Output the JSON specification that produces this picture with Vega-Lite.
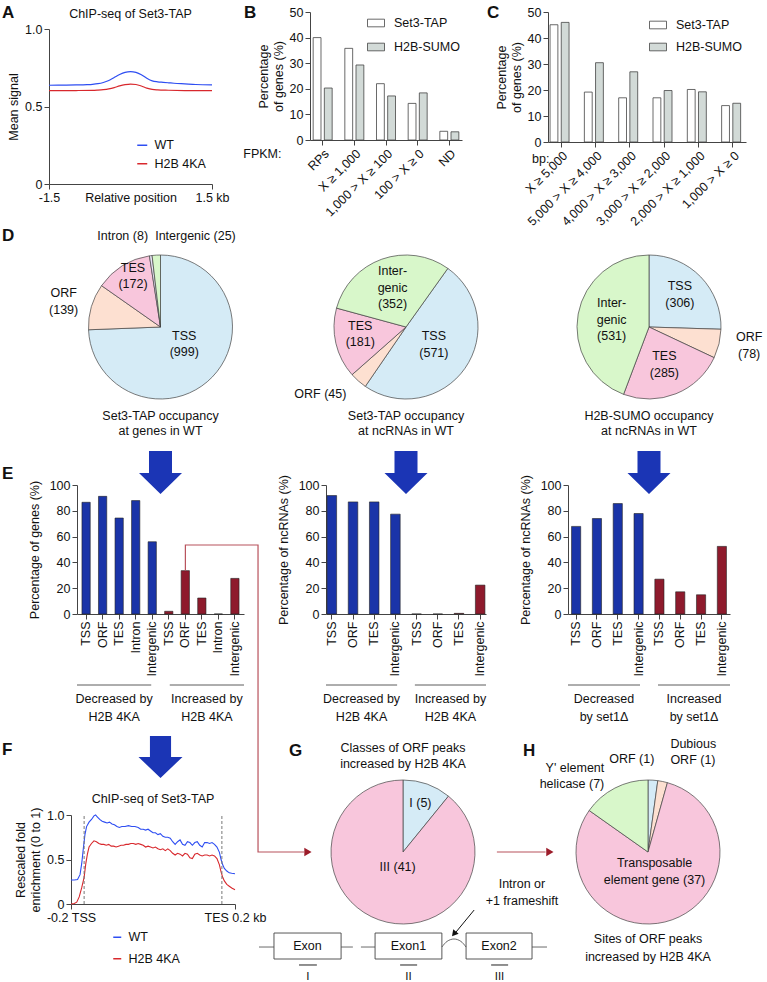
{
"$schema":"https://vega.github.io/schema/vega-lite/v6.json",
"background":"white",
"padding":{"left":-1,"top":4,"right":0,"bottom":0},
"columns":6,"align":"each","bounds":"flush","spacing":0,
"resolve":{"scale":{"color":"independent","fill":"independent","theta":"independent","x":"independent","y":"independent"},"legend":{"color":"independent","fill":"independent"}},
"config":{
 "font":"Liberation Sans",
 "view":{"stroke":null},
 "axis":{"labelFontSize":12.5,"titleFontSize":12.5,"titleFontWeight":"normal","labelColor":"#111","titleColor":"#111","domainColor":"#444","tickColor":"#444","grid":false,"tickSize":5,"labelPadding":2,"labelOverlap":false},
 "legend":{"labelFontSize":12.5,"labelColor":"#111"},
 "title":{"fontSize":12.5,"fontWeight":"normal","color":"#111"},
 "text":{"fontSize":12.5,"color":"#111"}
},
"concat":[
{"width":78,"height":1,"data":{"values":[{}]},"mark":{"type":"text","text":"A","fontSize":17,"fontWeight":"bold","align":"left","baseline":"alphabetic","dx":-36,"dy":5.5},"encoding":{}},
{"width":135,"height":172,
 "layer":[
  {"data":{"values":[
   {"pos":-1.5,"sig":0.637,"s":"WT"},{"pos":-1.2,"sig":0.638,"s":"WT"},{"pos":-1.0,"sig":0.639,"s":"WT"},{"pos":-0.8,"sig":0.641,"s":"WT"},{"pos":-0.7,"sig":0.643,"s":"WT"},{"pos":-0.6,"sig":0.647,"s":"WT"},{"pos":-0.5,"sig":0.655,"s":"WT"},{"pos":-0.4,"sig":0.668,"s":"WT"},{"pos":-0.3,"sig":0.687,"s":"WT"},{"pos":-0.2,"sig":0.706,"s":"WT"},{"pos":-0.1,"sig":0.72,"s":"WT"},{"pos":0,"sig":0.725,"s":"WT"},{"pos":0.1,"sig":0.72,"s":"WT"},{"pos":0.2,"sig":0.705,"s":"WT"},{"pos":0.3,"sig":0.682,"s":"WT"},{"pos":0.4,"sig":0.665,"s":"WT"},{"pos":0.5,"sig":0.659,"s":"WT"},{"pos":0.6,"sig":0.656,"s":"WT"},{"pos":0.7,"sig":0.653,"s":"WT"},{"pos":0.8,"sig":0.65,"s":"WT"},{"pos":1.0,"sig":0.646,"s":"WT"},{"pos":1.2,"sig":0.642,"s":"WT"},{"pos":1.5,"sig":0.639,"s":"WT"},
   {"pos":-1.5,"sig":0.602,"s":"H2B 4KA"},{"pos":-1.0,"sig":0.603,"s":"H2B 4KA"},{"pos":-0.7,"sig":0.604,"s":"H2B 4KA"},{"pos":-0.6,"sig":0.606,"s":"H2B 4KA"},{"pos":-0.5,"sig":0.609,"s":"H2B 4KA"},{"pos":-0.4,"sig":0.614,"s":"H2B 4KA"},{"pos":-0.3,"sig":0.622,"s":"H2B 4KA"},{"pos":-0.2,"sig":0.633,"s":"H2B 4KA"},{"pos":-0.1,"sig":0.641,"s":"H2B 4KA"},{"pos":0,"sig":0.645,"s":"H2B 4KA"},{"pos":0.1,"sig":0.642,"s":"H2B 4KA"},{"pos":0.2,"sig":0.632,"s":"H2B 4KA"},{"pos":0.3,"sig":0.619,"s":"H2B 4KA"},{"pos":0.4,"sig":0.61,"s":"H2B 4KA"},{"pos":0.5,"sig":0.607,"s":"H2B 4KA"},{"pos":0.7,"sig":0.605,"s":"H2B 4KA"},{"pos":1.0,"sig":0.603,"s":"H2B 4KA"},{"pos":1.5,"sig":0.602,"s":"H2B 4KA"}
  ]},
  "mark":{"type":"line","strokeWidth":1.2,"interpolate":"monotone"},
  "encoding":{
   "x":{"field":"pos","type":"quantitative","scale":{"domain":[-1.5,1.5],"range":[-28,135],"nice":false,"zero":false},"axis":{"values":[-1.5,1.5],"labelExpr":"datum.value < 0 ? '-1.5' : '1.5 kb'","labelFlush":false,"title":"Relative position","titleY":7,"titleBaseline":"top"}},
   "y":{"field":"sig","type":"quantitative","scale":{"domain":[0,1],"range":[172,17]},"axis":{"values":[0,0.5,1],"labelExpr":"datum.value == 0 ? '0' : format(datum.value, '.1f')","title":"Mean signal","offset":28}},
   "color":{"field":"s","type":"nominal","scale":{"domain":["WT","H2B 4KA"],"range":["#2e4ef2","#d8282d"]},"legend":{"title":null,"orient":"none","legendX":59,"legendY":127,"symbolType":"stroke","symbolSize":100,"symbolStrokeWidth":1.5,"rowPadding":5.5,"labelOffset":6}}
  }},
  {"mark":{"type":"rule","color":"#444"},"encoding":{"x":{"datum":-1.5,"type":"quantitative"},"x2":{"datum":1.5},"y":{"datum":1,"type":"quantitative"}}},
  {"mark":{"type":"rule","color":"#444"},"encoding":{"x":{"datum":1.5,"type":"quantitative"},"y":{"datum":0,"type":"quantitative"},"y2":{"datum":1}}},
  {"mark":{"type":"rule","strokeDash":[3,3],"color":"#777"},"encoding":{"x":{"datum":0,"type":"quantitative"},"y":{"datum":0,"type":"quantitative"},"y2":{"datum":1}}},
  {"data":{"values":[{}]},"mark":{"type":"text","text":"ChIP-seq of Set3-TAP","dx":-14,"dy":-84},"encoding":{}}
 ]},
{"width":82,"height":1,"data":{"values":[{}]},"mark":{"type":"point","opacity":0},"encoding":{}},
{"width":136,"height":128,
 "layer":[
 {"data":{"values":[
  {"cat":"RPs","s":"Set3-TAP","pct":40},{"cat":"RPs","s":"H2B-SUMO","pct":20.3},
  {"cat":"X ≥ 1,000","s":"Set3-TAP","pct":35.8},{"cat":"X ≥ 1,000","s":"H2B-SUMO","pct":29.3},
  {"cat":"1,000 > X ≥ 100","s":"Set3-TAP","pct":22},{"cat":"1,000 > X ≥ 100","s":"H2B-SUMO","pct":17.2},
  {"cat":"100 > X ≥ 0","s":"Set3-TAP","pct":14.3},{"cat":"100 > X ≥ 0","s":"H2B-SUMO","pct":18.4},
  {"cat":"ND","s":"Set3-TAP","pct":3.4},{"cat":"ND","s":"H2B-SUMO","pct":3.2}
 ]},
 "mark":{"type":"bar","stroke":"#444","strokeWidth":0.8},
 "encoding":{
  "x":{"field":"cat","type":"nominal","sort":null,"scale":{"range":[-16,136],"paddingInner":0.4,"paddingOuter":0.1},"axis":{"labelAngle":-45,"title":"FPKM:","titleX":-45,"titleY":13,"titleAlign":"right","titleBaseline":"middle"}},
  "xOffset":{"field":"s","type":"nominal","sort":["Set3-TAP","H2B-SUMO"],"scale":{"paddingInner":0.3}},
  "y":{"field":"pct","type":"quantitative","scale":{"domain":[0,50]},"axis":{"values":[0,10,20,30,40,50],"title":["Percentage","of genes (%)"],"titleLineHeight":15,"offset":16}},
  "fill":{"field":"s","type":"nominal","sort":["Set3-TAP","H2B-SUMO"],"scale":{"domain":["Set3-TAP","H2B-SUMO"],"range":["#ffffff","#d2dad7"]},"legend":{"title":null,"orient":"top-right","offset":2,"symbolType":"M-1,-0.45L1,-0.45L1,0.45L-1,0.45Z","symbolSize":289,"symbolStrokeColor":"#444","symbolStrokeWidth":0.8,"rowPadding":8,"labelOffset":9}}
 }},
 {"data":{"values":[{}]},"mark":{"type":"text","text":"B","fontSize":17,"fontWeight":"bold","align":"left","baseline":"alphabetic","dx":-150,"dy":-58},"encoding":{}}
 ]},
{"width":82,"height":1,"data":{"values":[{}]},"mark":{"type":"point","opacity":0},"encoding":{}},
{"width":178,"height":130,
 "layer":[
 {"data":{"values":[
  {"cat":"X ≥ 5,000","s":"Set3-TAP","pct":45.1},{"cat":"X ≥ 5,000","s":"H2B-SUMO","pct":46},
  {"cat":"5,000 > X ≥ 4,000","s":"Set3-TAP","pct":19.2},{"cat":"5,000 > X ≥ 4,000","s":"H2B-SUMO","pct":30.5},
  {"cat":"4,000 > X ≥ 3,000","s":"Set3-TAP","pct":17},{"cat":"4,000 > X ≥ 3,000","s":"H2B-SUMO","pct":27},
  {"cat":"3,000 > X ≥ 2,000","s":"Set3-TAP","pct":17},{"cat":"3,000 > X ≥ 2,000","s":"H2B-SUMO","pct":19.8},
  {"cat":"2,000 > X ≥ 1,000","s":"Set3-TAP","pct":20.2},{"cat":"2,000 > X ≥ 1,000","s":"H2B-SUMO","pct":19.3},
  {"cat":"1,000 > X ≥ 0","s":"Set3-TAP","pct":14},{"cat":"1,000 > X ≥ 0","s":"H2B-SUMO","pct":14.9}
 ]},
 "mark":{"type":"bar","stroke":"#444","strokeWidth":0.8},
 "encoding":{
  "x":{"field":"cat","type":"nominal","sort":null,"scale":{"range":[-20,178],"paddingInner":0.35,"paddingOuter":0.06},"axis":{"labelAngle":-45,"title":"bp:","titleX":-19,"titleY":16,"titleAlign":"right","titleBaseline":"middle"}},
  "xOffset":{"field":"s","type":"nominal","sort":["Set3-TAP","H2B-SUMO"],"scale":{"paddingInner":0.27}},
  "y":{"field":"pct","type":"quantitative","scale":{"domain":[0,50]},"axis":{"values":[0,10,20,30,40,50],"title":["Percentage","of genes (%)"],"titleLineHeight":15,"offset":20}},
  "fill":{"field":"s","type":"nominal","sort":["Set3-TAP","H2B-SUMO"],"scale":{"domain":["Set3-TAP","H2B-SUMO"],"range":["#ffffff","#d2dad7"]},"legend":{"title":null,"orient":"top-right","offset":4,"symbolType":"M-1,-0.45L1,-0.45L1,0.45L-1,0.45Z","symbolSize":289,"symbolStrokeColor":"#444","symbolStrokeWidth":0.8,"rowPadding":6,"labelOffset":9}}
 }},
 {"data":{"values":[{}]},"mark":{"type":"text","text":"C","fontSize":17,"fontWeight":"bold","align":"left","baseline":"alphabetic","dx":-170,"dy":-59},"encoding":{}}
 ]},

{"width":78,"height":1,"data":{"values":[{}]},"mark":{"type":"point","opacity":0},"encoding":{}},
{"width":167,"height":70,"data":{"values":[{}]},"mark":{"type":"text","text":"D","fontSize":17,"fontWeight":"bold","align":"left","baseline":"alphabetic","dx":-158.5,"dy":22},"encoding":{}},
{"width":82,"height":1,"data":{"values":[{}]},"mark":{"type":"point","opacity":0},"encoding":{}},
{"width":160,"height":1,"data":{"values":[{}]},"mark":{"type":"point","opacity":0},"encoding":{}},
{"width":82,"height":1,"data":{"values":[{}]},"mark":{"type":"point","opacity":0},"encoding":{}},
{"width":162,"height":1,"data":{"values":[{}]},"mark":{"type":"point","opacity":0},"encoding":{}},

{"width":78,"height":1,"data":{"values":[{}]},"mark":{"type":"point","opacity":0},"encoding":{}},
{"width":167,"height":146,
 "data":{"values":[
  {"cls":"TSS","n":999,"k":1,"lab":"TSS\n(999)"},
  {"cls":"ORF","n":139,"k":2,"lab":"ORF\n(139)"},
  {"cls":"TES","n":172,"k":3,"lab":"TES\n(172)"},
  {"cls":"Intron","n":8,"k":4,"lab":"Intron (8)"},
  {"cls":"Intergenic","n":25,"k":5,"lab":"Intergenic (25)"}]},
 "encoding":{"theta":{"field":"n","type":"quantitative","stack":true},"order":{"field":"k","type":"quantitative"}},
 "layer":[
  {"mark":{"type":"arc","radius":72,"stroke":"#444","strokeWidth":0.7},"encoding":{"color":{"field":"cls","type":"nominal","scale":{"domain":["TSS","ORF","TES","Intron","Intergenic"],"range":["#d5ebf6","#fde0d1","#f8c6dc","#e8e2f4","#d8f7ca"]},"legend":null}}},
  {"mark":{"type":"text","radius":33,"lineBreak":"\n","lineHeight":16.5,"dy":-14},"encoding":{"text":{"condition":{"test":"datum.cls==='TSS'","field":"lab"},"value":""}}},
  {"mark":{"type":"text","radius":52,"lineBreak":"\n","lineHeight":16.5,"dy":-15},"encoding":{"text":{"condition":{"test":"datum.cls==='TES'","field":"lab"},"value":""}}},
  {"mark":{"type":"text","radius":101,"lineBreak":"\n","lineHeight":16.5,"dy":-5},"encoding":{"text":{"condition":{"test":"datum.cls==='ORF'","field":"lab"},"value":""}}},
  {"mark":{"type":"text","radius":92,"align":"right"},"encoding":{"text":{"condition":{"test":"datum.cls==='Intron'","field":"lab"},"value":""}}},
  {"mark":{"type":"text","radius":91,"align":"left"},"encoding":{"text":{"condition":{"test":"datum.cls==='Intergenic'","field":"lab"},"value":""}}}
 ]},
{"width":82,"height":1,"data":{"values":[{}]},"mark":{"type":"point","opacity":0},"encoding":{}},
{"width":160,"height":146,
 "data":{"values":[
  {"cls":"TSS","n":571,"k":1,"lab":"TSS\n(571)"},
  {"cls":"ORF","n":45,"k":2,"lab":"ORF (45)"},
  {"cls":"TES","n":181,"k":3,"lab":"TES\n(181)"},
  {"cls":"Intergenic","n":352,"k":4,"lab":"Inter-\ngenic\n(352)"}]},
 "encoding":{"theta":{"field":"n","type":"quantitative","stack":true,"scale":{"range":[0.62,6.903]}},"order":{"field":"k","type":"quantitative"}},
 "layer":[
  {"mark":{"type":"arc","radius":72,"stroke":"#444","strokeWidth":0.7},"encoding":{"color":{"field":"cls","type":"nominal","scale":{"domain":["TSS","ORF","TES","Intron","Intergenic"],"range":["#d5ebf6","#fde0d1","#f8c6dc","#e8e2f4","#d8f7ca"]},"legend":null}}},
  {"mark":{"type":"text","radius":34,"lineBreak":"\n","lineHeight":16.5,"dy":-10},"encoding":{"text":{"condition":{"test":"datum.cls==='TSS'","field":"lab"},"value":""}}},
  {"mark":{"type":"text","radius":47,"lineBreak":"\n","lineHeight":16.5,"dy":-12},"encoding":{"text":{"condition":{"test":"datum.cls==='TES'","field":"lab"},"value":""}}},
  {"mark":{"type":"text","radius":40,"lineBreak":"\n","lineHeight":16.5,"dy":-18},"encoding":{"text":{"condition":{"test":"datum.cls==='Intergenic'","field":"lab"},"value":""}}},
  {"mark":{"type":"text","radius":90,"align":"right"},"encoding":{"text":{"condition":{"test":"datum.cls==='ORF'","field":"lab"},"value":""}}}
 ]},
{"width":82,"height":1,"data":{"values":[{}]},"mark":{"type":"point","opacity":0},"encoding":{}},
{"width":162,"height":146,
 "data":{"values":[
  {"cls":"TSS","n":306,"k":1,"lab":"TSS\n(306)"},
  {"cls":"ORF","n":78,"k":2,"lab":"ORF\n(78)"},
  {"cls":"TES","n":285,"k":3,"lab":"TES\n(285)"},
  {"cls":"Intergenic","n":531,"k":4,"lab":"Inter-\ngenic\n(531)"}]},
 "encoding":{"theta":{"field":"n","type":"quantitative","stack":true},"order":{"field":"k","type":"quantitative"}},
 "layer":[
  {"mark":{"type":"arc","radius":72,"stroke":"#444","strokeWidth":0.7},"encoding":{"color":{"field":"cls","type":"nominal","scale":{"domain":["TSS","ORF","TES","Intron","Intergenic"],"range":["#d5ebf6","#fde0d1","#f8c6dc","#e8e2f4","#d8f7ca"]},"legend":null}}},
  {"mark":{"type":"text","radius":43,"lineBreak":"\n","lineHeight":16.5,"dy":-11},"encoding":{"text":{"condition":{"test":"datum.cls==='TSS'","field":"lab"},"value":""}}},
  {"mark":{"type":"text","radius":103,"lineBreak":"\n","lineHeight":16.5,"dy":-14},"encoding":{"text":{"condition":{"test":"datum.cls==='ORF'","field":"lab"},"value":""}}},
  {"mark":{"type":"text","radius":41,"lineBreak":"\n","lineHeight":16.5,"dy":-9},"encoding":{"text":{"condition":{"test":"datum.cls==='TES'","field":"lab"},"value":""}}},
  {"mark":{"type":"text","radius":38,"lineBreak":"\n","lineHeight":16.5,"dy":-17},"encoding":{"text":{"condition":{"test":"datum.cls==='Intergenic'","field":"lab"},"value":""}}}
 ]},

{"width":78,"height":1,"data":{"values":[{}]},"mark":{"type":"point","opacity":0},"encoding":{}},
{"width":167,"height":47,"data":{"values":[{}]},"mark":{"type":"text","text":"Set3-TAP occupancy\nat genes in WT","lineBreak":"\n","lineHeight":15,"baseline":"middle","dy":-8},"encoding":{}},
{"width":82,"height":1,"data":{"values":[{}]},"mark":{"type":"point","opacity":0},"encoding":{}},
{"width":160,"height":47,"data":{"values":[{}]},"mark":{"type":"text","text":"Set3-TAP occupancy\nat ncRNAs in WT","lineBreak":"\n","lineHeight":15,"baseline":"middle","dy":-8},"encoding":{}},
{"width":82,"height":1,"data":{"values":[{}]},"mark":{"type":"point","opacity":0},"encoding":{}},
{"width":162,"height":47,"data":{"values":[{}]},"mark":{"type":"text","text":"H2B-SUMO occupancy\nat ncRNAs in WT","lineBreak":"\n","lineHeight":15,"baseline":"middle","dy":-8},"encoding":{}},

{"width":78,"height":1,"data":{"values":[{}]},"mark":{"type":"point","opacity":0},"encoding":{}},
{"width":167,"height":38,"data":{"values":[{}]},"mark":{"type":"point","shape":"M-0.535,-0.7L0.535,-0.7L0.535,0.32L1,0.32L0,1.3L-1,0.32L-0.535,0.32Z","size":1849,"filled":true,"fill":"#1b35b5","opacity":1,"strokeWidth":0},"encoding":{}},
{"width":82,"height":1,"data":{"values":[{}]},"mark":{"type":"point","opacity":0},"encoding":{}},
{"width":160,"height":38,"data":{"values":[{}]},"mark":{"type":"point","shape":"M-0.535,-0.7L0.535,-0.7L0.535,0.32L1,0.32L0,1.3L-1,0.32L-0.535,0.32Z","size":1849,"filled":true,"fill":"#1b35b5","opacity":1,"strokeWidth":0},"encoding":{}},
{"width":82,"height":1,"data":{"values":[{}]},"mark":{"type":"point","opacity":0},"encoding":{}},
{"width":162,"height":38,"data":{"values":[{}]},"mark":{"type":"point","shape":"M-0.535,-0.7L0.535,-0.7L0.535,0.32L1,0.32L0,1.3L-1,0.32L-0.535,0.32Z","size":1849,"filled":true,"fill":"#1b35b5","opacity":1,"strokeWidth":0},"encoding":{}},

{"width":78,"height":1,"data":{"values":[{}]},"mark":{"type":"point","opacity":0},"encoding":{}},
{"width":167,"height":129,
 "resolve":{"scale":{"x":"independent"},"axis":{"x":"independent"}},
 "layer":[
  {"data":{"values":[
   {"key":"Decreased|TSS","grp":"Decreased","pct":86.6},{"key":"Decreased|ORF","grp":"Decreased","pct":91.2},{"key":"Decreased|TES","grp":"Decreased","pct":74.4},{"key":"Decreased|Intron","grp":"Decreased","pct":87.9},{"key":"Decreased|Intergenic","grp":"Decreased","pct":56},
   {"key":"Increased|TSS","grp":"Increased","pct":2.1},{"key":"Increased|ORF","grp":"Increased","pct":33.6},{"key":"Increased|TES","grp":"Increased","pct":12.4},{"key":"Increased|Intron","grp":"Increased","pct":0},{"key":"Increased|Intergenic","grp":"Increased","pct":27.6}]},
   "mark":{"type":"bar","stroke":"#222","strokeWidth":0.6},
   "encoding":{
    "x":{"field":"key","type":"nominal","sort":null,"scale":{"paddingInner":0.5,"paddingOuter":0.3},"axis":{"labelAngle":-90,"labelExpr":"split(datum.label,'|')[1]","title":null}},
    "y":{"field":"pct","type":"quantitative","scale":{"domain":[0,100]},"axis":{"values":[0,20,40,60,80,100],"title":"Percentage of genes (%)","titlePadding":8,"labelOverlap":false}},
    "fill":{"field":"grp","type":"nominal","scale":{"domain":["Decreased","Increased"],"range":["#1a34a8","#8e1a2c"]},"legend":null}}},
  {"data":{"values":[{"cx":0.649,"pct":33.6,"k":1},{"cx":0.649,"pct":53.5,"k":2},{"cx":1.084,"pct":53.5,"k":3},{"cx":1.084,"pct":-184.5,"k":4},{"cx":1.36,"pct":-184.5,"k":5}]},
   "mark":{"type":"line","color":"#b8525c","strokeWidth":1.2},
   "encoding":{"x":{"field":"cx","type":"quantitative","scale":{"domain":[0,1],"nice":false,"zero":false},"axis":null},"y":{"field":"pct","type":"quantitative","scale":{"domain":[0,100]},"axis":{"values":[0,20,40,60,80,100],"title":"Percentage of genes (%)","titlePadding":8,"labelOverlap":false}},"order":{"field":"k","type":"quantitative"}}},
  {"data":{"values":[{"cx":1.383,"pct":-184.5}]},
   "mark":{"type":"point","shape":"triangle-right","size":70,"filled":true,"color":"#9c1c2a","opacity":1},
   "encoding":{"x":{"field":"cx","type":"quantitative","scale":{"domain":[0,1],"nice":false,"zero":false},"axis":null},"y":{"field":"pct","type":"quantitative","scale":{"domain":[0,100]},"axis":{"values":[0,20,40,60,80,100],"title":"Percentage of genes (%)","titlePadding":8,"labelOverlap":false}}}},
  {"data":{"values":[{}]},"mark":{"type":"text","text":"E","fontSize":17,"fontWeight":"bold","align":"left","baseline":"alphabetic","dx":-158.5,"dy":-70.5},"encoding":{}}
 ]},
{"width":82,"height":1,"data":{"values":[{}]},"mark":{"type":"point","opacity":0},"encoding":{}},
{"width":160,"height":129,
 "data":{"values":[
   {"key":"Decreased|TSS","grp":"Decreased","pct":91.8},{"key":"Decreased|ORF","grp":"Decreased","pct":86.9},{"key":"Decreased|TES","grp":"Decreased","pct":86.9},{"key":"Decreased|Intergenic","grp":"Decreased","pct":77.4},
   {"key":"Increased|TSS","grp":"Increased","pct":0},{"key":"Increased|ORF","grp":"Increased","pct":0},{"key":"Increased|TES","grp":"Increased","pct":0.5},{"key":"Increased|Intergenic","grp":"Increased","pct":22.4}]},
 "mark":{"type":"bar","stroke":"#222","strokeWidth":0.6},
 "encoding":{
  "x":{"field":"key","type":"nominal","sort":null,"scale":{"paddingInner":0.55,"paddingOuter":0.05},"axis":{"labelAngle":-90,"labelExpr":"split(datum.label,'|')[1]","title":null}},
  "y":{"field":"pct","type":"quantitative","scale":{"domain":[0,100]},"axis":{"values":[0,20,40,60,80,100],"title":"Percentage of ncRNAs (%)","titlePadding":8}},
  "fill":{"field":"grp","type":"nominal","scale":{"domain":["Decreased","Increased"],"range":["#1a34a8","#8e1a2c"]},"legend":null}}},
{"width":82,"height":1,"data":{"values":[{}]},"mark":{"type":"point","opacity":0},"encoding":{}},
{"width":162,"height":129,
 "data":{"values":[
   {"key":"Decreased|TSS","grp":"Decreased","pct":67.9},{"key":"Decreased|ORF","grp":"Decreased","pct":74},{"key":"Decreased|TES","grp":"Decreased","pct":85.6},{"key":"Decreased|Intergenic","grp":"Decreased","pct":77.9},
   {"key":"Increased|TSS","grp":"Increased","pct":27},{"key":"Increased|ORF","grp":"Increased","pct":17.2},{"key":"Increased|TES","grp":"Increased","pct":14.9},{"key":"Increased|Intergenic","grp":"Increased","pct":52.4}]},
 "mark":{"type":"bar","stroke":"#222","strokeWidth":0.6},
 "encoding":{
  "x":{"field":"key","type":"nominal","sort":null,"scale":{"paddingInner":0.56,"paddingOuter":0.17},"axis":{"labelAngle":-90,"labelExpr":"split(datum.label,'|')[1]","title":null}},
  "y":{"field":"pct","type":"quantitative","scale":{"domain":[0,100]},"axis":{"values":[0,20,40,60,80,100],"title":"Percentage of ncRNAs (%)","titlePadding":8}},
  "fill":{"field":"grp","type":"nominal","scale":{"domain":["Decreased","Increased"],"range":["#1a34a8","#8e1a2c"]},"legend":null}}},

{"width":78,"height":1,"data":{"values":[{}]},"mark":{"type":"point","opacity":0},"encoding":{}},
{"width":167,"height":39,"data":{"values":[{}]},"mark":{"type":"point","opacity":0},"encoding":{}},
{"width":82,"height":1,"data":{"values":[{}]},"mark":{"type":"point","opacity":0},"encoding":{}},
{"width":160,"height":1,"data":{"values":[{}]},"mark":{"type":"point","opacity":0},"encoding":{}},
{"width":82,"height":1,"data":{"values":[{}]},"mark":{"type":"point","opacity":0},"encoding":{}},
{"width":162,"height":1,"data":{"values":[{}]},"mark":{"type":"point","opacity":0},"encoding":{}},

{"width":78,"height":1,"data":{"values":[{}]},"mark":{"type":"point","opacity":0},"encoding":{}},
{"width":167,"height":64,
 "data":{"values":[{"grp":"Decreased","lab":"Decreased by\nH2B 4KA"},{"grp":"Increased","lab":"Increased by\nH2B 4KA"}]},
 "layer":[
  {"mark":{"type":"rule","color":"#333","strokeWidth":0.8},"encoding":{"x":{"field":"grp","type":"nominal","bandPosition":0,"scale":{"paddingInner":0.2,"paddingOuter":0},"axis":null},"x2":{"field":"grp","bandPosition":1}}},
  {"mark":{"type":"text","baseline":"top","dy":8,"lineBreak":"\n","lineHeight":18},"encoding":{"x":{"field":"grp","type":"nominal","scale":{"paddingInner":0.2,"paddingOuter":0},"axis":null},"text":{"field":"lab"}}}
 ]},
{"width":82,"height":1,"data":{"values":[{}]},"mark":{"type":"point","opacity":0},"encoding":{}},
{"width":160,"height":64,
 "data":{"values":[{"grp":"Decreased","lab":"Decreased by\nH2B 4KA"},{"grp":"Increased","lab":"Increased by\nH2B 4KA"}]},
 "layer":[
  {"mark":{"type":"rule","color":"#333","strokeWidth":0.8},"encoding":{"x":{"field":"grp","type":"nominal","bandPosition":0,"scale":{"paddingInner":0.2,"paddingOuter":0},"axis":null},"x2":{"field":"grp","bandPosition":1}}},
  {"mark":{"type":"text","baseline":"top","dy":8,"lineBreak":"\n","lineHeight":18},"encoding":{"x":{"field":"grp","type":"nominal","scale":{"paddingInner":0.2,"paddingOuter":0},"axis":null},"text":{"field":"lab"}}}
 ]},
{"width":82,"height":1,"data":{"values":[{}]},"mark":{"type":"point","opacity":0},"encoding":{}},
{"width":162,"height":64,
 "data":{"values":[{"grp":"Decreased","lab":"Decreased\nby set1Δ"},{"grp":"Increased","lab":"Increased\nby set1Δ"}]},
 "layer":[
  {"mark":{"type":"rule","color":"#333","strokeWidth":0.8},"encoding":{"x":{"field":"grp","type":"nominal","bandPosition":0,"scale":{"paddingInner":0.2,"paddingOuter":0},"axis":null},"x2":{"field":"grp","bandPosition":1}}},
  {"mark":{"type":"text","baseline":"top","dy":8,"lineBreak":"\n","lineHeight":18},"encoding":{"x":{"field":"grp","type":"nominal","scale":{"paddingInner":0.2,"paddingOuter":0},"axis":null},"text":{"field":"lab"}}}
 ]},

{"width":78,"height":1,"data":{"values":[{}]},"mark":{"type":"point","opacity":0},"encoding":{}},
{"width":167,"height":17,"data":{"values":[{}]},"mark":{"type":"point","opacity":0},"encoding":{}},
{"width":82,"height":1,"data":{"values":[{}]},"mark":{"type":"point","opacity":0},"encoding":{}},
{"width":160,"height":1,"data":{"values":[{}]},"mark":{"type":"point","opacity":0},"encoding":{}},
{"width":82,"height":1,"data":{"values":[{}]},"mark":{"type":"point","opacity":0},"encoding":{}},
{"width":162,"height":1,"data":{"values":[{}]},"mark":{"type":"point","opacity":0},"encoding":{}},

{"width":78,"height":1,"data":{"values":[{}]},"mark":{"type":"point","opacity":0},"encoding":{}},
{"width":167,"height":46,"data":{"values":[{}]},
 "layer":[
  {"mark":{"type":"point","shape":"M-0.48,-0.95L0.48,-0.95L0.48,0L1,0L0,0.95L-1,0L-0.48,0Z","size":1936,"filled":true,"fill":"#1b35b5","opacity":1,"strokeWidth":0},"encoding":{}},
  {"mark":{"type":"text","text":"F","fontSize":17,"fontWeight":"bold","align":"left","baseline":"alphabetic","dx":-158.5,"dy":-2},"encoding":{}}
 ]},
{"width":82,"height":1,"data":{"values":[{}]},"mark":{"type":"point","opacity":0},"encoding":{}},
{"width":154,"height":46,"data":{"values":[{}]},
 "layer":[
  {"mark":{"type":"text","text":"G","fontSize":17,"fontWeight":"bold","align":"left","baseline":"alphabetic","dx":-114,"dy":-1},"encoding":{}},
  {"mark":{"type":"text","text":"Classes of ORF peaks\nincreased by H2B 4KA","lineBreak":"\n","lineHeight":16,"baseline":"middle","dy":-9},"encoding":{}}
 ]},
{"width":82,"height":1,"data":{"values":[{}]},"mark":{"type":"point","opacity":0},"encoding":{}},
{"width":160,"height":46,"data":{"values":[{}]},"mark":{"type":"text","text":"H","fontSize":17,"fontWeight":"bold","align":"left","baseline":"alphabetic","dx":-125,"dy":-1},"encoding":{}},

{"width":78,"height":1,"data":{"values":[{}]},"mark":{"type":"point","opacity":0},"encoding":{}},
{"width":158,"height":124,
 "layer":[
  {"data":{"values":[
   {"p":0,"v":0.27,"s":"WT"},{"p":2,"v":0.27,"s":"WT"},{"p":4,"v":0.275,"s":"WT"},{"p":5.5,"v":0.33,"s":"WT"},{"p":6.5,"v":0.45,"s":"WT"},{"p":7.5,"v":0.62,"s":"WT"},{"p":8.5,"v":0.78,"s":"WT"},{"p":9.5,"v":0.87,"s":"WT"},{"p":11,"v":0.92,"s":"WT"},{"p":12.5,"v":0.95,"s":"WT"},{"p":14,"v":0.99,"s":"WT"},{"p":15,"v":1.0,"s":"WT"},{"p":16,"v":0.98,"s":"WT"},{"p":17.5,"v":0.95,"s":"WT"},{"p":19,"v":0.93,"s":"WT"},{"p":20.5,"v":0.92,"s":"WT"},{"p":22,"v":0.91,"s":"WT"},{"p":23.5,"v":0.92,"s":"WT"},{"p":25,"v":0.9,"s":"WT"},{"p":26.5,"v":0.89,"s":"WT"},{"p":28,"v":0.87,"s":"WT"},{"p":29.5,"v":0.86,"s":"WT"},{"p":31,"v":0.87,"s":"WT"},{"p":33,"v":0.87,"s":"WT"},{"p":35,"v":0.88,"s":"WT"},{"p":37,"v":0.87,"s":"WT"},{"p":39,"v":0.87,"s":"WT"},{"p":41,"v":0.86,"s":"WT"},{"p":42.5,"v":0.84,"s":"WT"},{"p":44,"v":0.84,"s":"WT"},{"p":45.5,"v":0.83,"s":"WT"},{"p":47,"v":0.84,"s":"WT"},{"p":48.5,"v":0.82,"s":"WT"},{"p":50,"v":0.8,"s":"WT"},{"p":51.5,"v":0.8,"s":"WT"},{"p":53,"v":0.78,"s":"WT"},{"p":54.5,"v":0.79,"s":"WT"},{"p":56,"v":0.76,"s":"WT"},{"p":57.5,"v":0.75,"s":"WT"},{"p":59,"v":0.75,"s":"WT"},{"p":60.5,"v":0.74,"s":"WT"},{"p":62,"v":0.7,"s":"WT"},{"p":63.5,"v":0.67,"s":"WT"},{"p":65,"v":0.7,"s":"WT"},{"p":66.5,"v":0.72,"s":"WT"},{"p":68,"v":0.67,"s":"WT"},{"p":69.5,"v":0.66,"s":"WT"},{"p":71,"v":0.7,"s":"WT"},{"p":72.5,"v":0.69,"s":"WT"},{"p":74,"v":0.66,"s":"WT"},{"p":75.5,"v":0.69,"s":"WT"},{"p":77,"v":0.7,"s":"WT"},{"p":78.5,"v":0.66,"s":"WT"},{"p":80,"v":0.64,"s":"WT"},{"p":81.5,"v":0.69,"s":"WT"},{"p":83,"v":0.69,"s":"WT"},{"p":84.5,"v":0.68,"s":"WT"},{"p":86,"v":0.69,"s":"WT"},{"p":87.5,"v":0.67,"s":"WT"},{"p":89,"v":0.64,"s":"WT"},{"p":90.5,"v":0.58,"s":"WT"},{"p":91.5,"v":0.5,"s":"WT"},{"p":92.5,"v":0.44,"s":"WT"},{"p":93.5,"v":0.4,"s":"WT"},{"p":95,"v":0.37,"s":"WT"},{"p":96.5,"v":0.35,"s":"WT"},{"p":98,"v":0.345,"s":"WT"},{"p":100,"v":0.34,"s":"WT"},
   {"p":0,"v":0.0,"s":"H2B 4KA"},{"p":2,"v":0.005,"s":"H2B 4KA"},{"p":3.5,"v":0.02,"s":"H2B 4KA"},{"p":5,"v":0.08,"s":"H2B 4KA"},{"p":6.5,"v":0.18,"s":"H2B 4KA"},{"p":8,"v":0.3,"s":"H2B 4KA"},{"p":9,"v":0.45,"s":"H2B 4KA"},{"p":10,"v":0.56,"s":"H2B 4KA"},{"p":11,"v":0.64,"s":"H2B 4KA"},{"p":12.5,"v":0.68,"s":"H2B 4KA"},{"p":14,"v":0.71,"s":"H2B 4KA"},{"p":15.5,"v":0.7,"s":"H2B 4KA"},{"p":17,"v":0.68,"s":"H2B 4KA"},{"p":18.5,"v":0.67,"s":"H2B 4KA"},{"p":20,"v":0.67,"s":"H2B 4KA"},{"p":21.5,"v":0.66,"s":"H2B 4KA"},{"p":23,"v":0.67,"s":"H2B 4KA"},{"p":24.5,"v":0.65,"s":"H2B 4KA"},{"p":26,"v":0.65,"s":"H2B 4KA"},{"p":27.5,"v":0.64,"s":"H2B 4KA"},{"p":29,"v":0.65,"s":"H2B 4KA"},{"p":30.5,"v":0.66,"s":"H2B 4KA"},{"p":32,"v":0.66,"s":"H2B 4KA"},{"p":33.5,"v":0.67,"s":"H2B 4KA"},{"p":35,"v":0.67,"s":"H2B 4KA"},{"p":36.5,"v":0.68,"s":"H2B 4KA"},{"p":38,"v":0.68,"s":"H2B 4KA"},{"p":39.5,"v":0.67,"s":"H2B 4KA"},{"p":41,"v":0.68,"s":"H2B 4KA"},{"p":42.5,"v":0.67,"s":"H2B 4KA"},{"p":44,"v":0.66,"s":"H2B 4KA"},{"p":45.5,"v":0.64,"s":"H2B 4KA"},{"p":47,"v":0.65,"s":"H2B 4KA"},{"p":48.5,"v":0.64,"s":"H2B 4KA"},{"p":50,"v":0.63,"s":"H2B 4KA"},{"p":51.5,"v":0.64,"s":"H2B 4KA"},{"p":53,"v":0.62,"s":"H2B 4KA"},{"p":54.5,"v":0.61,"s":"H2B 4KA"},{"p":56,"v":0.62,"s":"H2B 4KA"},{"p":57.5,"v":0.6,"s":"H2B 4KA"},{"p":59,"v":0.62,"s":"H2B 4KA"},{"p":60.5,"v":0.6,"s":"H2B 4KA"},{"p":62,"v":0.57,"s":"H2B 4KA"},{"p":63.5,"v":0.55,"s":"H2B 4KA"},{"p":65,"v":0.57,"s":"H2B 4KA"},{"p":66.5,"v":0.56,"s":"H2B 4KA"},{"p":68,"v":0.54,"s":"H2B 4KA"},{"p":69.5,"v":0.57,"s":"H2B 4KA"},{"p":71,"v":0.56,"s":"H2B 4KA"},{"p":72.5,"v":0.52,"s":"H2B 4KA"},{"p":74,"v":0.51,"s":"H2B 4KA"},{"p":75.5,"v":0.56,"s":"H2B 4KA"},{"p":77,"v":0.57,"s":"H2B 4KA"},{"p":78.5,"v":0.55,"s":"H2B 4KA"},{"p":80,"v":0.54,"s":"H2B 4KA"},{"p":81.5,"v":0.55,"s":"H2B 4KA"},{"p":83,"v":0.55,"s":"H2B 4KA"},{"p":84.5,"v":0.54,"s":"H2B 4KA"},{"p":86,"v":0.55,"s":"H2B 4KA"},{"p":87.5,"v":0.54,"s":"H2B 4KA"},{"p":89,"v":0.51,"s":"H2B 4KA"},{"p":90.5,"v":0.44,"s":"H2B 4KA"},{"p":91.5,"v":0.36,"s":"H2B 4KA"},{"p":92.5,"v":0.3,"s":"H2B 4KA"},{"p":93.5,"v":0.26,"s":"H2B 4KA"},{"p":95,"v":0.22,"s":"H2B 4KA"},{"p":96.5,"v":0.2,"s":"H2B 4KA"},{"p":98,"v":0.18,"s":"H2B 4KA"},{"p":100,"v":0.16,"s":"H2B 4KA"}
  ]},
  "mark":{"type":"line","strokeWidth":1.1},
  "encoding":{
   "x":{"field":"p","type":"quantitative","scale":{"domain":[0,100],"range":[-6,158],"nice":false,"zero":false},"axis":{"values":[0,100],"labelExpr":"datum.value == 0 ? '-0.2 TSS' : 'TES 0.2 kb'","labelFlush":false,"title":null}},
   "y":{"field":"v","type":"quantitative","scale":{"domain":[0,1],"range":[124,35]},"axis":{"values":[0,0.5,1],"labelExpr":"datum.value == 0 ? '0' : format(datum.value, '.1f')","title":["Rescaled fold","enrichment (0 to 1)"],"titleLineHeight":15,"offset":6}},
   "color":{"field":"s","type":"nominal","scale":{"domain":["WT","H2B 4KA"],"range":["#2e4ef2","#d8282d"]},"legend":{"title":null,"orient":"none","legendX":34,"legendY":151,"symbolType":"stroke","symbolSize":64,"symbolStrokeWidth":1.5,"rowPadding":8.5,"labelOffset":5}}
  }},
  {"mark":{"type":"rule","color":"#444"},"encoding":{"x":{"datum":0,"type":"quantitative"},"x2":{"datum":100},"y":{"datum":1,"type":"quantitative"}}},
  {"mark":{"type":"rule","color":"#444"},"encoding":{"x":{"datum":100,"type":"quantitative"},"y":{"datum":0,"type":"quantitative"},"y2":{"datum":1}}},
  {"data":{"values":[{"p":8},{"p":92}]},"mark":{"type":"rule","strokeDash":[3,2],"color":"#777"},"encoding":{"x":{"field":"p","type":"quantitative"},"y":{"datum":0,"type":"quantitative"},"y2":{"datum":1}}},
  {"data":{"values":[{}]},"mark":{"type":"text","text":"ChIP-seq of Set3-TAP","dx":-3,"dy":-43},"encoding":{}}
 ]},
{"width":82,"height":1,"data":{"values":[{}]},"mark":{"type":"point","opacity":0},"encoding":{}},
{"width":154,"height":144,
 "layer":[
  {"data":{"values":[{"cls":"I","n":5,"k":1,"lab":"I (5)"},{"cls":"III","n":41,"k":2,"lab":"III (41)"}]},
   "encoding":{"theta":{"field":"n","type":"quantitative","stack":true},"order":{"field":"k","type":"quantitative"}},
   "layer":[
    {"mark":{"type":"arc","radius":72,"stroke":"#444","strokeWidth":0.7},"encoding":{"color":{"field":"cls","type":"nominal","scale":{"domain":["I","III"],"range":["#d5ebf6","#f8c6dc"]},"legend":null}}},
    {"mark":{"type":"text","radius":52},"encoding":{"text":{"condition":{"test":"datum.cls==='I'","field":"lab"},"value":""}}},
    {"mark":{"type":"text","radius":16},"encoding":{"text":{"condition":{"test":"datum.cls==='III'","field":"lab"},"value":""}}}
   ]},
  {"data":{"values":[{"ax":0.826,"ax2":0.995,"ay":0.5}]},"mark":{"type":"rule","color":"#b8525c","strokeWidth":1.2},
   "encoding":{"x":{"field":"ax","type":"quantitative","scale":{"domain":[0,1],"range":[-67,221],"nice":false,"zero":false},"axis":null},"x2":{"field":"ax2"},"y":{"field":"ay","type":"quantitative","scale":{"domain":[0,1],"nice":false,"zero":false},"axis":null}}},
  {"data":{"values":[{"ax":1.01,"ay":0.5}]},"mark":{"type":"point","shape":"triangle-right","size":70,"filled":true,"color":"#9c1c2a","opacity":1},
   "encoding":{"x":{"field":"ax","type":"quantitative","scale":{"domain":[0,1],"range":[-67,221],"nice":false,"zero":false},"axis":null},"y":{"field":"ay","type":"quantitative","scale":{"domain":[0,1],"nice":false,"zero":false},"axis":null}}},
  {"data":{"values":[{"ax":0.747,"ay":0.097,"ax2":0.684,"ay2":-0.056}]},"mark":{"type":"rule","color":"#111","strokeWidth":1},
   "encoding":{"x":{"field":"ax","type":"quantitative","scale":{"domain":[0,1],"range":[-67,221],"nice":false,"zero":false},"axis":null},"x2":{"field":"ax2"},"y":{"field":"ay","type":"quantitative","scale":{"domain":[0,1],"nice":false,"zero":false},"axis":null},"y2":{"field":"ay2"}}},
  {"data":{"values":[{"ax":0.677,"ay":-0.069}]},"mark":{"type":"point","shape":"triangle-up","size":50,"filled":true,"color":"#111","opacity":1,"angle":220},
   "encoding":{"x":{"field":"ax","type":"quantitative","scale":{"domain":[0,1],"range":[-67,221],"nice":false,"zero":false},"axis":null},"y":{"field":"ay","type":"quantitative","scale":{"domain":[0,1],"nice":false,"zero":false},"axis":null}}},
  {"data":{"values":[{"ax":0.913,"ay":0.275,"t":"Intron or\n+1 frameshift"}]},"mark":{"type":"text","lineBreak":"\n","lineHeight":17},
   "encoding":{"x":{"field":"ax","type":"quantitative","scale":{"domain":[0,1],"range":[-67,221],"nice":false,"zero":false},"axis":null},"y":{"field":"ay","type":"quantitative","scale":{"domain":[0,1],"nice":false,"zero":false},"axis":null},"text":{"field":"t"}}}
 ]},
{"width":82,"height":1,"data":{"values":[{}]},"mark":{"type":"point","opacity":0},"encoding":{}},
{"width":160,"height":144,
 "data":{"values":[
  {"cls":"orf","n":1,"k":1,"lab":"ORF (1)"},
  {"cls":"dub","n":1,"k":2,"lab":"Dubious\nORF (1)"},
  {"cls":"tp","n":37,"k":3,"lab":"Transposable\nelement gene (37)"},
  {"cls":"yh","n":7,"k":4,"lab":"Y' element\nhelicase (7)"}]},
 "encoding":{"theta":{"field":"n","type":"quantitative","stack":true},"order":{"field":"k","type":"quantitative"}},
 "layer":[
  {"mark":{"type":"arc","radius":72,"stroke":"#444","strokeWidth":0.7},"encoding":{"color":{"field":"cls","type":"nominal","scale":{"domain":["orf","dub","tp","yh"],"range":["#d5ebf6","#fde0d1","#f8c6dc","#d8f7ca"]},"legend":null}}},
  {"mark":{"type":"text","radius":19.5,"lineBreak":"\n","lineHeight":17,"dy":-7.5},"encoding":{"text":{"condition":{"test":"datum.cls==='tp'","field":"lab"},"value":""}}},
  {"mark":{"type":"text","radius":95,"align":"right","lineBreak":"\n","lineHeight":16},"encoding":{"text":{"condition":{"test":"datum.cls==='yh'","field":"lab"},"value":""}}},
  {"mark":{"type":"text","radius":93,"align":"right"},"encoding":{"text":{"condition":{"test":"datum.cls==='orf'","field":"lab"},"value":""}}},
  {"mark":{"type":"text","radius":110,"align":"left","lineBreak":"\n","lineHeight":16},"encoding":{"text":{"condition":{"test":"datum.cls==='dub'","field":"lab"},"value":""}}}
 ]},

{"width":78,"height":1,"data":{"values":[{}]},"mark":{"type":"point","opacity":0},"encoding":{}},
{"width":1,"height":1,"data":{"values":[{}]},"mark":{"type":"point","opacity":0},"encoding":{}},
{"width":82,"height":1,"data":{"values":[{}]},"mark":{"type":"point","opacity":0},"encoding":{}},
{"width":154,"height":56,
 "layer":[
  {"data":{"values":[{"x1":0,"x2":5.2},{"x1":28.5,"x2":32.6},{"x1":35.4,"x2":40.3},{"x1":94.8,"x2":100}]},
   "mark":{"type":"rule","color":"#444","strokeWidth":0.8},
   "encoding":{"x":{"field":"x1","type":"quantitative","scale":{"domain":[0,100],"range":[-67,221],"nice":false,"zero":false},"axis":null},"x2":{"field":"x2"},"y":{"datum":5.89,"type":"quantitative","scale":{"domain":[0,10],"nice":false,"zero":false},"axis":null}}},
  {"data":{"values":[{"x1":5.2,"x2":28.5,"xc":16.85,"lab":"Exon"},{"x1":40.3,"x2":63.5,"xc":51.9,"lab":"Exon1"},{"x1":71.9,"x2":94.8,"xc":83.35,"lab":"Exon2"}]},
   "layer":[
    {"mark":{"type":"rect","fill":"white","stroke":"#444","strokeWidth":0.9},
     "encoding":{"x":{"field":"x1","type":"quantitative","scale":{"domain":[0,100],"range":[-67,221],"nice":false,"zero":false},"axis":null},"x2":{"field":"x2"},"y":{"datum":3.75,"type":"quantitative","scale":{"domain":[0,10],"nice":false,"zero":false},"axis":null},"y2":{"datum":8.39}}},
    {"mark":{"type":"text"},
     "encoding":{"x":{"field":"xc","type":"quantitative","scale":{"domain":[0,100],"range":[-67,221],"nice":false,"zero":false},"axis":null},"y":{"datum":6.07,"type":"quantitative","scale":{"domain":[0,10],"nice":false,"zero":false},"axis":null},"text":{"field":"lab"}}}
   ]},
  {"data":{"values":[{"x":63.5,"y":5.89,"k":1},{"x":65.3,"y":6.9,"k":2},{"x":67.7,"y":7.32,"k":3},{"x":70.1,"y":6.9,"k":4},{"x":71.9,"y":5.89,"k":5}]},
   "mark":{"type":"line","color":"#444","strokeWidth":0.8,"interpolate":"monotone"},
   "encoding":{"x":{"field":"x","type":"quantitative","scale":{"domain":[0,100],"range":[-67,221],"nice":false,"zero":false},"axis":null},"y":{"field":"y","type":"quantitative","scale":{"domain":[0,10],"nice":false,"zero":false},"axis":null},"order":{"field":"k","type":"quantitative"}}},
  {"data":{"values":[{"x1":13.9,"x2":20.1,"xc":17,"lab":"I"},{"x1":49,"x2":54.9,"xc":51.9,"lab":"II"},{"x1":80.6,"x2":86.5,"xc":83.5,"lab":"III"}]},
   "layer":[
    {"mark":{"type":"rule","color":"#222","strokeWidth":1},
     "encoding":{"x":{"field":"x1","type":"quantitative","scale":{"domain":[0,100],"range":[-67,221],"nice":false,"zero":false},"axis":null},"x2":{"field":"x2"},"y":{"datum":2.68,"type":"quantitative","scale":{"domain":[0,10],"nice":false,"zero":false},"axis":null}}},
    {"mark":{"type":"text","baseline":"top","fontSize":11.5},
     "encoding":{"x":{"field":"xc","type":"quantitative","scale":{"domain":[0,100],"range":[-67,221],"nice":false,"zero":false},"axis":null},"y":{"datum":1.6,"type":"quantitative","scale":{"domain":[0,10],"nice":false,"zero":false},"axis":null},"text":{"field":"lab"}}}
   ]}
 ]},
{"width":82,"height":1,"data":{"values":[{}]},"mark":{"type":"point","opacity":0},"encoding":{}},
{"width":160,"height":56,"data":{"values":[{}]},"mark":{"type":"text","text":"Sites of ORF peaks\nincreased by H2B 4KA","lineBreak":"\n","lineHeight":18,"baseline":"middle","dy":-13},"encoding":{}}
]
}
